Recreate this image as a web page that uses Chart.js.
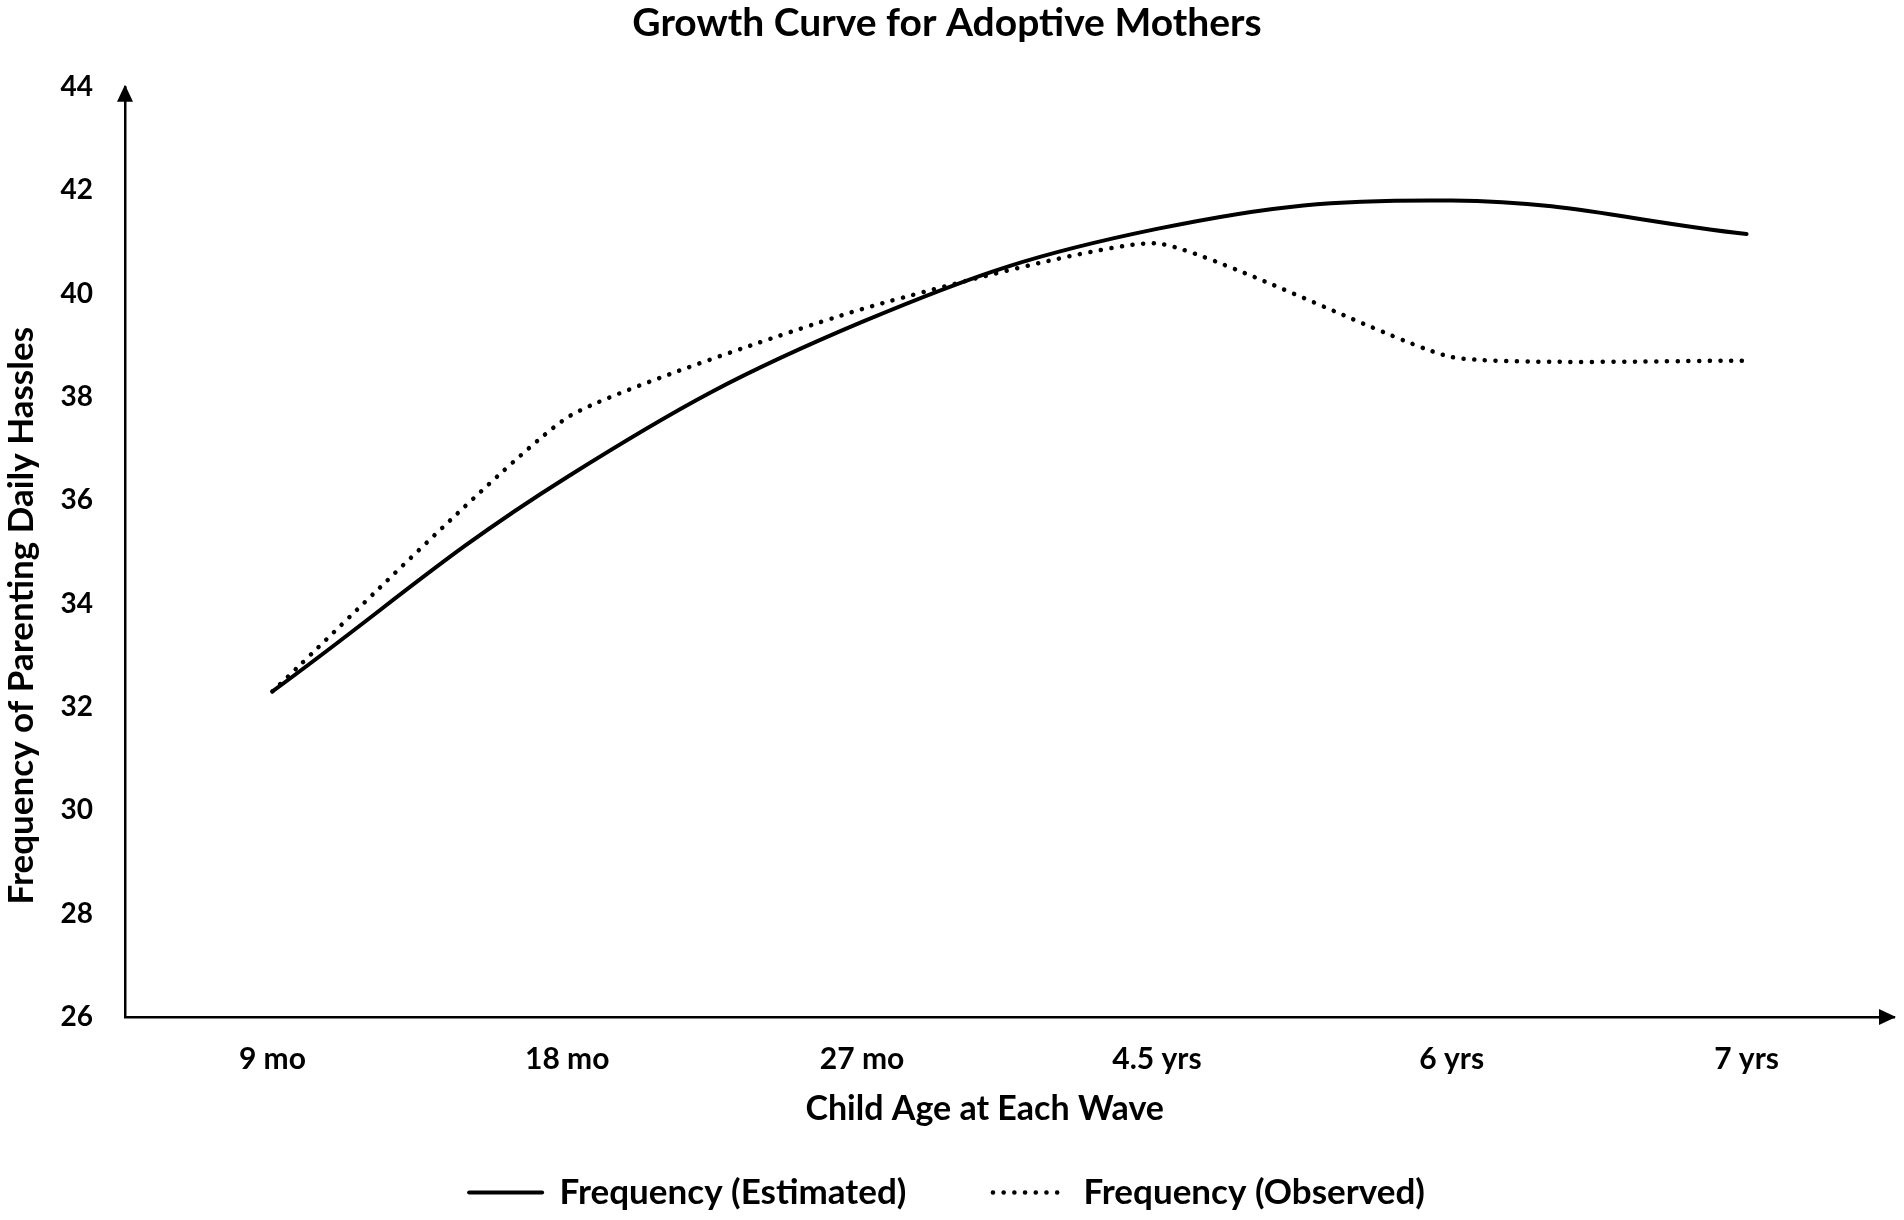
<!DOCTYPE html>
<html>
<head>
<meta charset="utf-8">
<script src="https://cdn.jsdelivr.net/npm/chart.js@4/dist/chart.umd.min.js"></script>
<style>
  html, body { margin: 0; padding: 0; background: #fff; }
  #wrap { width: 1904px; height: 1220px; }
</style>
</head>
<body>
<div id="wrap"><canvas id="growth-chart"></canvas></div>
<script>
const ages = ['9 mo', '18 mo', '27 mo', '4.5 yrs', '6 yrs', '7 yrs'];
const estimated = [32.3, 36.45, 39.45, 41.25, 41.8, 41.15];
const observed = [32.3, 37.6, 39.7, 40.97, 38.77, 38.7];
const yMin = 26;
const yMax = 44;
const yStep = 2;

const FONT = 'Lato, "Open Sans", sans-serif';
const NB = '\u00a0';

// arrow heads at the ends of both axes
const axisArrows = {
    id: 'axisArrows',
    afterDraw(chart) {
        const { ctx, chartArea } = chart;
        const x0 = chartArea.left;
        const y0 = chartArea.bottom;
        ctx.save();
        ctx.fillStyle = '#000';
        ctx.beginPath();
        ctx.moveTo(x0, chartArea.top - 2);
        ctx.lineTo(x0 - 8, chartArea.top + 15);
        ctx.lineTo(x0 + 8, chartArea.top + 15);
        ctx.closePath();
        ctx.fill();
        ctx.beginPath();
        ctx.moveTo(chartArea.right + 2, y0);
        ctx.lineTo(chartArea.right - 15, y0 - 8);
        ctx.lineTo(chartArea.right - 15, y0 + 8);
        ctx.closePath();
        ctx.fill();
        ctx.restore();
    }
};

const ctx = document.getElementById('growth-chart').getContext('2d');

new Chart(ctx, {
    type: 'line',
    data: {
        labels: ages,
        datasets: [{
            label: 'Frequency (Estimated)' + NB.repeat(9),
            data: estimated,
            borderColor: '#000',
            backgroundColor: '#000',
            borderWidth: 4,
            borderCapStyle: 'round',
            tension: 0.4,
            pointRadius: 0,
            fill: false
        }, {
            label: 'Frequency (Observed)',
            data: observed,
            borderColor: '#000',
            backgroundColor: '#000',
            borderWidth: 4.5,
            borderCapStyle: 'round',
            borderDash: [0.1, 10.6],
            tension: 0.15,
            pointRadius: 0,
            fill: false
        }]
    },
    options: {
        responsive: true,
        maintainAspectRatio: false,
        animation: false,
        layout: { padding: { left: 0, right: 10, top: 0, bottom: 0 } },
        plugins: {
            title: {
                display: true,
                text: 'Growth Curve for Adoptive Mothers',
                color: '#000',
                font: { family: FONT, size: 39, weight: 'bold' },
                padding: { top: 0, bottom: 40 }
            },
            legend: {
                position: 'bottom',
                labels: {
                    color: '#000',
                    font: { family: FONT, size: 35, weight: 'bold' },
                    usePointStyle: true,
                    pointStyleWidth: 73,
                    boxHeight: 35,
                    padding: 10,
                    generateLabels(chart) {
                        const items = Chart.defaults.plugins.legend.labels.generateLabels(chart);
                        items.forEach((item, i) => {
                            const ds = chart.data.datasets[i];
                            item.pointStyle = 'line';
                            item.lineWidth = ds.borderWidth;
                            item.lineDash = ds.borderDash || [];
                            item.lineCap = 'round';
                            item.strokeStyle = '#000';
                        });
                        return items;
                    }
                }
            },
            tooltip: { enabled: false }
        },
        scales: {
            x: {
                offset: true,
                grid: { display: false, drawTicks: false },
                border: { display: true, color: '#000', width: 2.5 },
                ticks: {
                    color: '#000',
                    padding: 24,
                    font: { family: FONT, size: 30, weight: 'bold' }
                },
                title: {
                    display: true,
                    text: 'Child Age at Each Wave' + NB.repeat(6),
                    color: '#000',
                    font: { family: FONT, size: 34, weight: 'bold' },
                    padding: { top: 0, bottom: 36 }
                },
                afterFit(scale) { scale.height = 148; }
            },
            y: {
                min: yMin,
                max: yMax,
                grid: { display: false, drawTicks: false },
                border: { display: true, color: '#000', width: 2.5 },
                ticks: {
                    stepSize: yStep,
                    color: '#000',
                    padding: 32,
                    font: { family: FONT, size: 28, weight: 'bold' }
                },
                title: {
                    display: true,
                    text: 'Frequency of Parenting Daily Hassles' + NB.repeat(15),
                    color: '#000',
                    font: { family: FONT, size: 35, weight: 'bold' },
                    padding: { top: 1, bottom: 0 }
                },
                afterFit(scale) { scale.width = 125; }
            }
        }
    },
    plugins: [axisArrows]
});
</script>
</body>
</html>
